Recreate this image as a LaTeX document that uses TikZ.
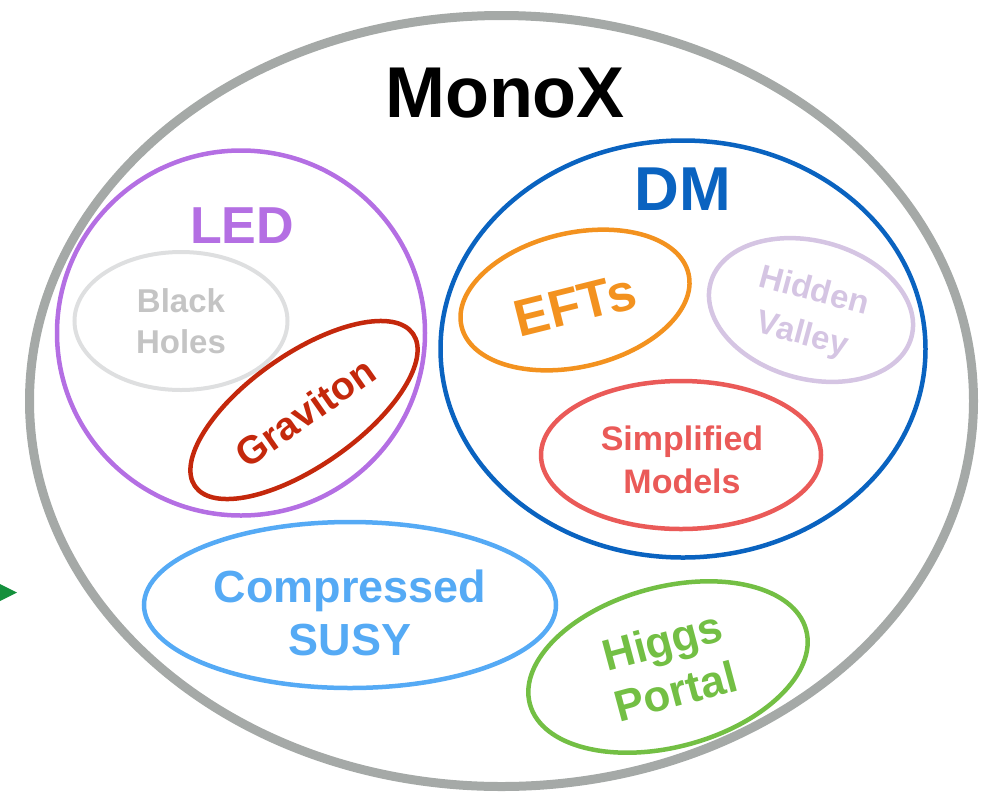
\documentclass[tikz,border=0pt]{standalone}
\usepackage{fontspec}
\setmainfont{Liberation Sans}
\usetikzlibrary{shapes.geometric}

\definecolor{monogray}{HTML}{A5A9A7}
\definecolor{ledpurple}{HTML}{B46FE3}
\definecolor{holegray}{HTML}{DEDFE0}
\definecolor{holetext}{HTML}{C4C4C4}
\definecolor{gravred}{HTML}{C4280C}
\definecolor{dmblue}{HTML}{0A63C0}
\definecolor{eftorange}{HTML}{F3921F}
\definecolor{hvlilac}{HTML}{D5C5E3}
\definecolor{simpred}{HTML}{EA5A58}
\definecolor{susyblue}{HTML}{55AAF5}
\definecolor{higgsgreen}{HTML}{73BF44}
\definecolor{arrowgreen}{HTML}{14903C}

\begin{document}
\begin{tikzpicture}[x=1pt,y=-1pt,
  ring/.style={draw, ellipse, inner sep=0pt, line width=4.5pt},
  lbl/.style={inner sep=0pt},
  fs/.style={font=\fontsize{#1}{#1}\selectfont\bfseries}
]
\useasboundingbox (0,0) rectangle (985,796);

% outer set
\node[ring, draw=monogray, line width=9pt, minimum width=944pt, minimum height=771pt] (monox) at (501.5,401) {};
\node[lbl, fs=72, anchor=base] (monoxlabel) at (505,117) {MonoX};

% large extra dimensions
\node[ring, draw=ledpurple, minimum width=368pt, minimum height=365pt] (led) at (241,333) {};
\node[lbl, fs=52, text=ledpurple, anchor=base] (ledlabel) at (242,243) {LED};

\node[ring, draw=holegray, line width=4pt, minimum width=213pt, minimum height=138pt] (bh) at (181,321) {};
\node[lbl, fs=33, text=holetext, anchor=base] (bhlabelA) at (181,312) {Black};
\node[lbl, fs=33, text=holetext, anchor=base] (bhlabelB) at (181,353) {Holes};

\node[ring, draw=gravred, rotate=35, minimum width=266pt, minimum height=112pt] (grav) at (304,410) {};
\node[lbl, fs=39, text=gravred, rotate=35] (gravlabel) at (305,412) {Graviton};

% dark matter
\node[ring, draw=dmblue, minimum width=485pt, minimum height=417pt] (dm) at (683,349) {};
\node[lbl, fs=62, text=dmblue, anchor=base] (dmlabel) at (683,210) {DM};

\node[ring, draw=eftorange, rotate=13, minimum width=233pt, minimum height=134pt] (eft) at (575,300) {};
\node[lbl, fs=52, text=eftorange, rotate=14] (eftlabel) at (575,305) {EFTs};

\node[ring, draw=hvlilac, rotate=-15, minimum width=208pt, minimum height=138pt] (hv) at (811,310) {};
\node[lbl, font=\fontsize{33}{45}\selectfont\bfseries, text=hvlilac, rotate=-15, align=center] (hvlabel) at (808,314) {Hidden\\Valley};

\node[ring, draw=simpred, minimum width=280pt, minimum height=148pt] (simp) at (681,455) {};
\node[lbl, fs=34, text=simpred, anchor=base] (simplabelA) at (682,450) {Simplified};
\node[lbl, fs=34, text=simpred, anchor=base] (simplabelB) at (682,493) {Models};

% compressed SUSY
\node[ring, draw=susyblue, minimum width=412pt, minimum height=166pt] (susy) at (350,605) {};
\node[lbl, fs=45, text=susyblue, anchor=base] (susylabelA) at (350,602) {Compressed};
\node[lbl, fs=45, text=susyblue, anchor=base] (susylabelB) at (350,655) {SUSY};

% Higgs portal
\node[ring, draw=higgsgreen, rotate=15, minimum width=286pt, minimum height=160pt] (higgs) at (668,667) {};
\node[lbl, font=\fontsize{44}{52}\selectfont\bfseries, text=higgsgreen, rotate=15, align=center] (higgslabel) at (669,666) {Higgs\\Portal};

% arrow tip entering from the left edge
\fill[arrowgreen] (0,584) -- (17,592.5) -- (0,601) -- cycle;
\end{tikzpicture}
\end{document}
